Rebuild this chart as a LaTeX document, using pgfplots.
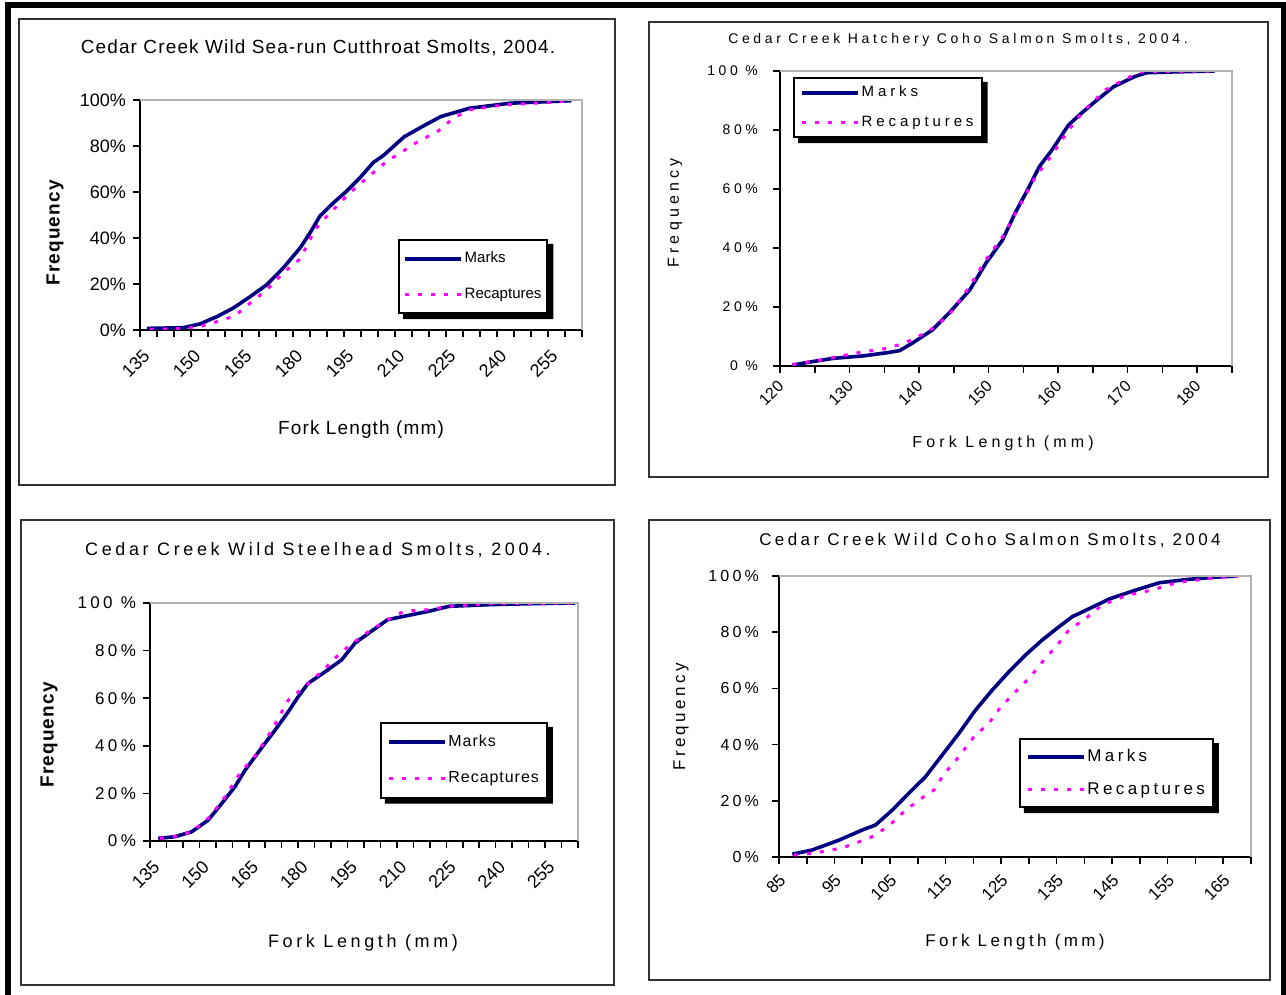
\documentclass[border=0pt]{standalone}
\usepackage{fontspec}
\setmainfont{Liberation Sans}
\newfontfamily\lsA[LetterSpace=6]{Liberation Sans}
\newfontfamily\lsB[LetterSpace=20]{Liberation Sans}
\newfontfamily\lsC[LetterSpace=26]{Liberation Sans}
\usepackage{pgfplots}
\pgfplotsset{compat=1.18}
\definecolor{marknavy}{RGB}{0,0,128}
\definecolor{recapmag}{RGB}{255,0,255}

% black drop shadow on the lower right of a named legend box
\newcommand\legendshadow[1]{%
  \fill[black] ([xshift=2.5pt,yshift=0.5pt]#1.south west) -- ([xshift=2.5pt,yshift=-2.5pt]#1.south west)
    -- ([xshift=2.5pt,yshift=-2.5pt]#1.south east) -- ([xshift=2.5pt,yshift=-2.5pt]#1.north east)
    -- ([xshift=-0.5pt,yshift=-2.5pt]#1.north east) -- ([xshift=-0.5pt,yshift=0.5pt]#1.south east) -- cycle;}

\pgfplotsset{
  smoltaxis/.style={
    scale only axis, anchor=south west,
    ymin=0, ymax=100, ytick={0,20,...,100},
    yticklabels={0\%,20\%,40\%,60\%,80\%,100\%},
    axis x line*=bottom, axis y line*=left,
    axis line style={black, line width=0.8pt},
    tick align=outside, major tick length=3.5pt, minor tick length=3.5pt,
    tick style={black, line width=0.8pt},
    xticklabel style={rotate=45, anchor=east},
    legend cell align=left,
    legend image code/.code={\draw[##1] (0pt,0pt) -- (28pt,0pt);},
    legend style={draw=black, line width=1pt, fill=white, anchor=north west,
      row sep=7pt, inner xsep=3pt, inner ysep=4pt,
      nodes={inner xsep=1pt}},
    after end axis/.code={\draw[gray!60, line width=0.6pt]
      (rel axis cs:0,1) -- (rel axis cs:1,1) -- (rel axis cs:1,0);},
  },
  marks/.style={marknavy, line width=1.8pt, no markers},
  recaps/.style={recapmag, line width=1.5pt, dash pattern=on 2pt off 4.5pt, no markers},
}

\begin{document}
\begin{tikzpicture}[x=0.5pt, y=0.5pt]
% page and frame
\fill[white] (0,0) rectangle (1286,995);
\fill[black] (5,987) rectangle (1286,993);
\fill[black] (5,0) rectangle (11,993);
\fill[black] (1281,0) rectangle (1286,993);
% panel boxes
\draw[black!80, line width=1pt] (19,510) rectangle (615,976);
\draw[black!80, line width=1pt] (649,518) rectangle (1268,973);
\draw[black!80, line width=1pt] (21,10) rectangle (614,475);
\draw[black!80, line width=1pt] (649,15) rectangle (1270,475);

% ---------- Sea-run cutthroat ----------
\begin{axis}[smoltaxis, at={(70pt,332.5pt)}, width=221pt, height=115pt,
  xmin=135, xmax=265, xtick={135,150,...,255}, minor xtick={135,140,...,265},
  xticklabels={135,150,165,180,195,210,225,240,255},
  ticklabel style={font=\fontsize{9}{10}\selectfont},
  xticklabel style={yshift=-8pt},
  legend style={name=legA, at={(0.584,0.396)}, inner xsep=2pt, font=\fontsize{7.5}{9}\selectfont}]
\addplot[marks] coordinates {(137.0,0.7)(147.7,1.0)(152.6,2.6)(157.6,5.8)(162.4,9.5)(167.4,14.5)(172.3,19.7)(177.1,26.9)(182.1,35.7)(185.0,42.2)(187.9,49.5)(191.9,55.3)(195.8,60.4)(199.7,66.2)(203.6,72.8)(206.7,76.0)(212.7,84.0)(218.7,89.0)(223.5,92.8)(231.9,96.4)(243.9,98.6)(261.9,99.7)};
\addplot[recaps] coordinates {(137.9,0.3)(147.7,0.6)(152.7,1.5)(157.6,3.6)(162.9,6.1)(167.4,11.7)(172.3,17.5)(177.1,24.8)(182.1,30.9)(185.5,40.8)(187.4,45.4)(191.9,52.4)(196.8,59.7)(202.2,66.7)(207.3,73.0)(212.1,77.5)(217.5,82.6)(222.3,86.0)(227.1,92.0)(231.9,95.7)(241.5,97.8)(253.5,98.8)(261.9,99.6)};
\legend{Marks,Recaptures}
\end{axis}
\legendshadow{legA}
\node[font=\lsA\fontsize{9.5}{11}\selectfont] at (318,947) {Cedar Creek Wild Sea-run Cutthroat Smolts, 2004.};
\node[rotate=90, font=\lsA\bfseries\fontsize{9.5}{11}\selectfont] at (55,762) {Frequency};
\node[font=\lsA\fontsize{9.5}{11}\selectfont] at (361,565) {Fork Length (mm)};

% ---------- Hatchery coho ----------
\begin{axis}[smoltaxis, at={(390pt,314.5pt)}, width=226pt, height=147.5pt,
  xmin=120, xmax=185, xtick={120,130,...,180}, minor xtick={120,125,...,185},
  xticklabels={120,130,140,150,160,170,180},
  yticklabels={0 \%,20\%,40\%,60\%,80\%,100 \%},
  yticklabel style={font=\lsC\fontsize{7}{8}\selectfont, xshift=-4pt},
  xticklabel style={font=\fontsize{8}{9}\selectfont, yshift=-4pt},
  legend style={name=legB, at={(0.029,0.98)}, row sep=4pt, inner ysep=2pt, font=\lsC\fontsize{7.5}{9}\selectfont}]
\addplot[marks] coordinates {(121.8,0.3)(124.7,1.5)(127.7,2.6)(131.9,3.4)(135.4,4.5)(137.2,5.2)(139.0,7.7)(141.9,12.2)(144.3,17.9)(147.3,25.8)(149.6,34.8)(152.0,42.7)(153.8,51.8)(155.6,59.7)(157.3,67.6)(159.1,73.2)(161.5,81.7)(163.3,85.6)(165.6,90.2)(168.0,94.7)(171.0,98.1)(172.7,99.4)(176.9,99.7)(182.5,100)};
\addplot[recaps] coordinates {(121.8,0.5)(126.5,2.3)(130.7,4.3)(135.4,6.0)(137.8,7.7)(141.3,11.6)(144.3,17.3)(147.3,27.0)(149.6,36.0)(152.0,43.8)(154.4,54.0)(156.7,64.0)(159.1,71.5)(161.5,80.0)(163.8,86.8)(166.8,93.6)(169.8,97.5)(172.1,99.8)(182.5,100)};
\legend{Marks,Recaptures}
\end{axis}
\legendshadow{legB}
\node[font=\lsC\fontsize{7}{8}\selectfont] at (958,955) {Cedar Creek Hatchery Coho Salmon Smolts, 2004.};
\node[rotate=90, font=\lsC\fontsize{8}{9}\selectfont] at (675,782) {Frequency};
\node[font=\lsC\fontsize{8}{9}\selectfont] at (1003,552) {Fork Length (mm)};

% ---------- Wild steelhead ----------
\begin{axis}[smoltaxis, at={(75pt,77pt)}, width=214pt, height=119pt,
  xmin=135, xmax=265, xtick={135,150,...,255}, minor xtick={135,140,...,265},
  xticklabels={135,150,165,180,195,210,225,240,255},
  yticklabels={0\%,20\%,40\%,60\%,80\%,100 \%},
  yticklabel style={font=\lsB\fontsize{8.5}{10}\selectfont},
  xticklabel style={font=\fontsize{9}{10}\selectfont, yshift=-8pt},
  legend style={name=legC, at={(0.537,0.5)}, font=\lsA\fontsize{8}{9}\selectfont}]
\addplot[marks] coordinates {(137.5,1.1)(142.6,1.8)(147.7,3.9)(152.7,8.8)(156.8,15.8)(160.8,22.8)(163.9,29.8)(166.9,35.4)(169.9,41.0)(173.0,46.6)(177.0,54.3)(180.0,60.6)(183.0,66.2)(188.2,71.1)(193.2,76.1)(197.3,83.2)(202.2,88.1)(207.2,93.0)(212.1,94.4)(219.6,96.5)(225.8,98.6)(238.1,99.3)(250.5,99.7)(264.1,100)};
\addplot[recaps] coordinates {(138.0,1.1)(143.1,2.1)(147.7,3.9)(153.2,10.2)(157.8,18.6)(162.3,28.4)(167.4,36.6)(172.0,46.6)(177.0,59.2)(182.6,65.5)(187.6,71.8)(192.7,78.9)(197.3,83.9)(202.2,88.8)(207.8,93.4)(212.1,96.5)(219.6,97.2)(225.8,98.6)(238.1,99.7)(264.1,100)};
\legend{Marks,Recaptures}
\end{axis}
\legendshadow{legC}
\node[font=\lsB\fontsize{9}{10}\selectfont] at (318,445) {Cedar Creek Wild Steelhead Smolts, 2004.};
\node[rotate=90, font=\lsA\bfseries\fontsize{9.5}{11}\selectfont] at (49,260) {Frequency};
\node[font=\lsB\fontsize{9}{10}\selectfont] at (363,52) {Fork Length (mm)};

% ---------- Wild coho ----------
\begin{axis}[smoltaxis, at={(389.5pt,69pt)}, width=236pt, height=140.5pt,
  xmin=85, xmax=170, xtick={85,95,...,165}, minor xtick={85,90,...,170},
  xticklabels={85,95,105,115,125,135,145,155,165},
  yticklabel style={font=\lsB\fontsize{8}{9}\selectfont, xshift=-3pt},
  xticklabel style={font=\fontsize{8.5}{10}\selectfont, yshift=-6pt},
  legend style={name=legD, at={(0.508,0.423)}, row sep=5pt, inner ysep=3pt, font=\lsB\fontsize{8.5}{10}\selectfont}]
\addplot[marks] coordinates {(87.4,1.0)(91.0,2.5)(95.8,6.0)(100.0,9.6)(102.4,11.4)(105.4,16.7)(108.4,22.7)(111.4,28.6)(114.4,36.3)(117.4,44.0)(120.4,52.3)(123.4,59.4)(126.4,65.9)(129.4,71.9)(132.4,77.2)(135.4,81.9)(137.8,85.5)(140.9,88.4)(144.6,91.9)(149.1,94.9)(153.5,97.6)(158.7,98.8)(163.9,99.6)(167.6,100)};
\addplot[recaps] coordinates {(87.7,0.7)(91.0,1.3)(96.1,3.1)(97.9,4.3)(101.2,6.7)(102.4,7.8)(105.4,12.2)(107.5,16.1)(110.2,20.3)(112.9,23.8)(114.7,29.5)(117.4,35.7)(120.1,42.8)(122.8,47.6)(124.9,53.3)(127.6,58.8)(130.3,64.2)(132.7,70.1)(135.1,75.4)(137.2,80.8)(140.2,84.8)(143.1,89.6)(147.6,93.1)(152.0,94.9)(156.5,97.6)(162.4,99.1)(167.6,100)};
\legend{Marks,Recaptures}
\end{axis}
\legendshadow{legD}
\node[font=\lsB\fontsize{8.5}{10}\selectfont] at (990,455) {Cedar Creek Wild Coho Salmon Smolts, 2004};
\node[rotate=90, font=\lsB\fontsize{8.5}{10}\selectfont] at (681,278) {Frequency};
\node[font=\lsB\fontsize{8.5}{10}\selectfont] at (1015,53) {Fork Length (mm)};
\end{tikzpicture}
\end{document}
